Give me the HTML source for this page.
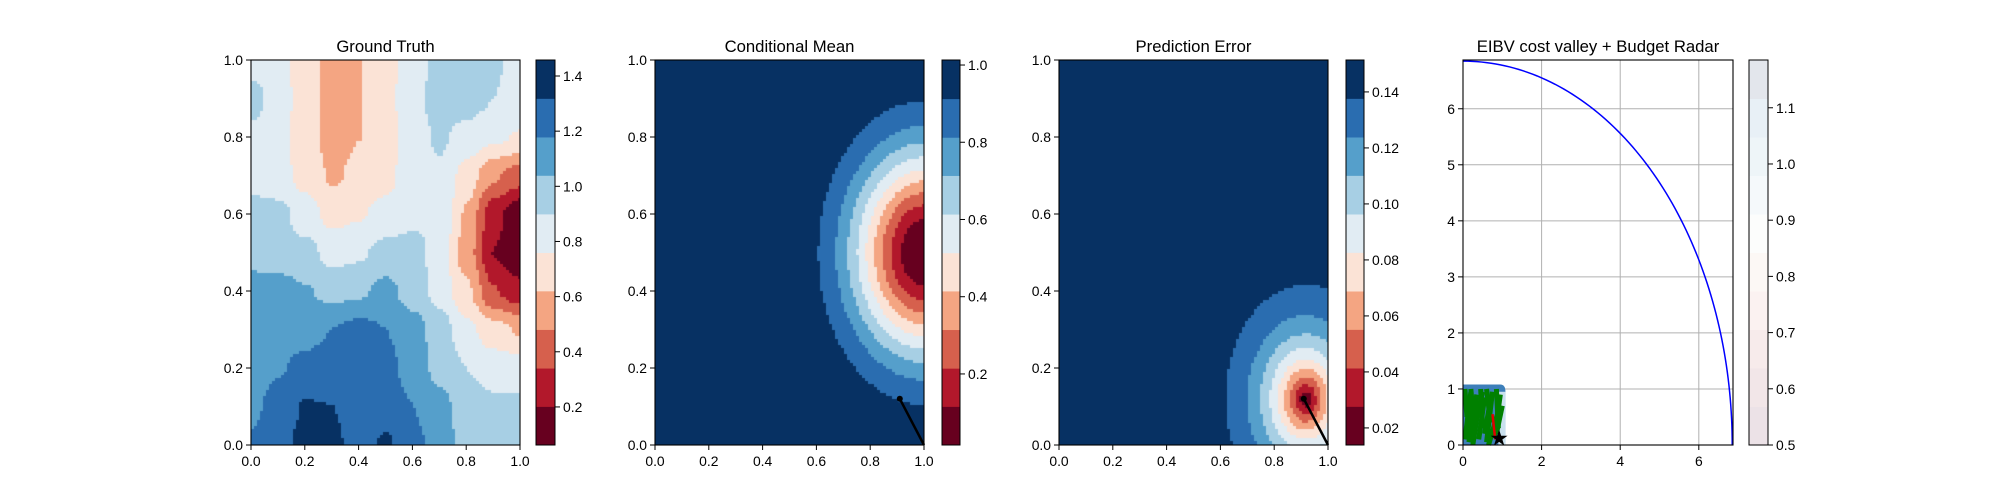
<!DOCTYPE html>
<html><head><meta charset="utf-8">
<style>
html,body{margin:0;padding:0;background:#fff;}
#root{position:relative;width:2000px;height:500px;overflow:hidden;font-family:"Liberation Sans","DejaVu Sans",sans-serif;}
canvas{position:absolute;}
svg{position:absolute;left:0;top:0;}
</style></head>
<body>
<div id="root">
<canvas id="c1"></canvas>
<canvas id="c2"></canvas>
<canvas id="c3"></canvas>
<svg id="s" width="2000" height="500"></svg>
</div>
<script>
// ---- data ----
const colors=["#67001f","#b2182b","#d6604d","#f4a582","#fbe3d6","#e1ecf3","#a7cfe4","#559fcb","#2a6db0","#073163"];
const gtLevels=[0.062,0.202,0.341,0.481,0.621,0.760,0.900,1.040,1.179,1.319,1.458];
const cmLevels=[0.016,0.116,0.215,0.315,0.415,0.514,0.614,0.714,0.813,0.913,1.013];
const peLevels=[0.0139,0.0277,0.0414,0.0552,0.0689,0.0827,0.0964,0.1102,0.1239,0.1377,0.1514];
const gtTicks=[0.2,0.4,0.6,0.8,1.0,1.2,1.4];
const cmTicks=[0.2,0.4,0.6,0.8,1.0];
const peTicks=[0.02,0.04,0.06,0.08,0.10,0.12,0.14];
const unitTicks=[0.0,0.2,0.4,0.6,0.8,1.0];
// ground truth grid rows y=1.0 -> 0.0, cols x=0..1
const gtGrid=[
[0.83,0.80,0.70,0.55,0.62,0.72,0.82,0.95,0.97,0.92,0.85],
[0.97,0.82,0.70,0.55,0.62,0.72,0.85,0.97,0.97,0.90,0.85],
[0.85,0.80,0.70,0.56,0.62,0.70,0.83,0.92,0.85,0.78,0.75],
[0.83,0.80,0.72,0.60,0.66,0.72,0.85,0.88,0.70,0.50,0.40],
[0.97,0.95,0.82,0.72,0.75,0.80,0.85,0.90,0.60,0.25,0.10],
[0.97,0.97,0.95,0.85,0.88,0.95,0.97,0.82,0.55,0.20,0.08],
[1.12,1.10,1.05,1.00,1.02,1.08,0.98,0.85,0.65,0.35,0.25],
[1.10,1.12,1.14,1.18,1.22,1.18,1.10,0.97,0.80,0.68,0.60],
[1.10,1.17,1.21,1.24,1.28,1.22,1.12,1.00,0.90,0.84,0.83],
[1.15,1.24,1.33,1.32,1.26,1.26,1.18,1.08,0.98,0.93,0.93],
[1.20,1.28,1.36,1.35,1.26,1.34,1.22,1.12,0.98,0.95,0.95]];
// blob params: [cx, cy, base, depth, sigma, exponent]
const cmBlob=[1.0,0.5,1.013,1.0,0.26,2];
const peBlob=[0.915,0.12,0.1514,0.137,0.144,1.15];
const pathX=[0.91,1.0];
const pathY=[0.12,0.0];
// radar panel
const radarXTicks=[0,2,4,6];
const radarYTicks=[0,1,2,3,4,5,6];
const radarMax=6.87;
const radarRadius=6.85;
const radarCbLevels=[0.5,0.5685,0.637,0.7055,0.774,0.8425,0.911,0.9795,1.048,1.1165,1.185];
const radarCbColors=["#ece2e7","#f2e6e8","#f7ebeb","#fbf2f1","#fcf8f5","#fcfdfc","#f5f9fb","#eef5f8","#e8f0f6","#e3e6ec"];
const radarCbTicks=[0.5,0.6,0.7,0.8,0.9,1.0,1.1];
const greenX=[[0.05,0.2],[0.15,0.35],[0.3,0.2],[0.4,0.55],[0.5,0.45],[0.6,0.75],[0.7,0.6],[0.8,0.95],[0.9,0.85],[0.1,0.05],[0.25,0.4],[0.55,0.7],[0.65,0.9],[0.35,0.5],[0.85,1.0],[0.2,0.1]];
const greenY=[[0.1,0.95],[0.05,0.9],[0.2,1.0],[0.1,0.85],[0.3,1.0],[0.05,0.95],[0.4,1.0],[0.15,0.9],[0.3,1.0],[0.5,1.0],[0.0,0.7],[0.2,0.8],[0.0,0.6],[0.5,0.95],[0.2,0.7],[0.3,0.8]];
const redX=[0.75,0.82];
const redY=[0.55,0.1];
const starXY=[0.92,0.12];

// ---- layout ----
const panels=[
 {x0:251,x1:520,cb0:536,cb1:555,title:"Ground Truth"},
 {x0:655,x1:924,cb0:942,cb1:960,title:"Conditional Mean"},
 {x0:1059,x1:1328,cb0:1346,cb1:1364,title:"Prediction Error"},
 {x0:1463,x1:1733,cb0:1749,cb1:1768,title:"EIBV cost valley + Budget Radar"}];
const Y0=60,Y1=445;
const NS="http://www.w3.org/2000/svg";
const svg=document.getElementById('s');
function el(tag,attrs,parent){const e=document.createElementNS(NS,tag);for(const k in attrs)e.setAttribute(k,attrs[k]);(parent||svg).appendChild(e);return e;}
function txt(x,y,s,anchor,size,name){const t=el('text',{x:x,y:y,'text-anchor':anchor,'font-size':size,fill:'#000'});t.textContent=s;return t;}

function binIndex(v,levels){for(let i=0;i<levels.length-1;i++){if(v<levels[i+1])return i;}return levels.length-2;}
function hex(c){return [parseInt(c.substr(1,2),16),parseInt(c.substr(3,2),16),parseInt(c.substr(5,2),16)];}
const rgb=colors.map(hex);
function gtField(x,y){const gx=x*10,gy=(1-y)*10;let i=Math.min(9,Math.floor(gx)),j=Math.min(9,Math.floor(gy));const fx=gx-i,fy=gy-j;
 const a=gtGrid[j][i],b=gtGrid[j][i+1],c=gtGrid[j+1][i],d=gtGrid[j+1][i+1];
 let t=fx*fx*(3-2*fx),u=fy*fy*(3-2*fy);return a*(1-t)*(1-u)+b*t*(1-u)+c*(1-t)*u+d*t*u;}
function blobField(p){return (x,y)=>{const dx=x-p[0],dy=y-p[1];const dd=Math.sqrt(dx*dx+dy*dy);return p[2]-p[3]*Math.exp(-Math.pow(dd/p[4],p[5]));};}
function drawField(id,p,fn,levels){const c=document.getElementById(id);const w=p.x1-p.x0,h=Y1-Y0;c.width=w;c.height=h;c.style.left=p.x0+'px';c.style.top=Y0+'px';
 const ctx=c.getContext('2d');const img=ctx.createImageData(w,h);const step=3;
 for(let py=0;py<h;py++){for(let px=0;px<w;px++){const qx=Math.floor(px/step)*step+1,qy=Math.floor(py/step)*step+1;
  const v=fn(qx/w,1-qy/h);const k=rgb[binIndex(v,levels)];const o=(py*w+px)*4;img.data[o]=k[0];img.data[o+1]=k[1];img.data[o+2]=k[2];img.data[o+3]=255;}}
 ctx.putImageData(img,0,0);}
drawField('c1',panels[0],gtField,gtLevels);
drawField('c2',panels[1],blobField(cmBlob),cmLevels);
drawField('c3',panels[2],blobField(peBlob),peLevels);

function axes(p,xt,yt,xmax,ymax,fmt,idx){
 const sx=v=>p.x0+(p.x1-p.x0)*v/xmax, sy=v=>Y1-(Y1-Y0)*v/ymax;
 xt.forEach(v=>{const l=el('line',{x1:sx(v),x2:sx(v),y1:Y1,y2:Y1+5,stroke:'#000','stroke-width':1});
  txt(sx(v),Y1+21,fmt(v),'middle',13.9,'x-tick-label');});
 yt.forEach(v=>{const l=el('line',{x1:p.x0-5,x2:p.x0,y1:sy(v),y2:sy(v),stroke:'#000','stroke-width':1});
  txt(p.x0-8,sy(v)+5,fmt(v),'end',13.9,'y-tick-label');});
 const r=el('rect',{x:p.x0,y:Y0,width:p.x1-p.x0,height:Y1-Y0,fill:'none',stroke:'#000','stroke-width':1.1});
 const t=txt((p.x0+p.x1)/2,Y0-8,p.title,'middle',16.7,'panel-title');
 return {sx,sy};}
function colorbar(p,levels,cols,ticks,fmt,idx){
 const lo=levels[0],hi=levels[levels.length-1];const sy=v=>Y1-(Y1-Y0)*(v-lo)/(hi-lo);
 const g=el('g',{});
 for(let i=0;i<cols.length;i++){const r=el('rect',{x:p.cb0,y:sy(levels[i+1]),width:p.cb1-p.cb0,height:sy(levels[i])-sy(levels[i+1])+0.5,fill:cols[i]},g);}
 el('rect',{x:p.cb0,y:Y0,width:p.cb1-p.cb0,height:Y1-Y0,fill:'none',stroke:'#000','stroke-width':1},g);
 ticks.forEach(v=>{el('line',{x1:p.cb1,x2:p.cb1+5,y1:sy(v),y2:sy(v),stroke:'#000'},g);txt(p.cb1+8,sy(v)+5,fmt(v),'start',13.9,'colorbar-tick-label');});}
const f1=v=>v.toFixed(1),f2=v=>v.toFixed(2),f0=v=>String(v);
const a1=axes(panels[0],unitTicks,unitTicks,1,1,f1,1);
const a2=axes(panels[1],unitTicks,unitTicks,1,1,f1,2);
const a3=axes(panels[2],unitTicks,unitTicks,1,1,f1,3);
colorbar(panels[0],gtLevels,colors,gtTicks,f1,1);
colorbar(panels[1],cmLevels,colors,cmTicks,f1,2);
colorbar(panels[2],peLevels,colors,peTicks,f2,3);
[a2,a3].forEach((a,i)=>{
 const l=el('line',{x1:a.sx(pathX[0]),y1:a.sy(pathY[0]),x2:a.sx(pathX[1]),y2:a.sy(pathY[1]),stroke:'#000','stroke-width':2.5});
 
 const c=el('circle',{cx:a.sx(pathX[0]),cy:a.sy(pathY[0]),r:3,fill:'#000'});});

// radar panel
const P4=panels[3];
const sx4=v=>P4.x0+(P4.x1-P4.x0)*v/radarMax, sy4=v=>Y1-(Y1-Y0)*v/radarMax;
radarXTicks.forEach(v=>{const l=el('line',{x1:sx4(v),x2:sx4(v),y1:Y0,y2:Y1,stroke:'#b0b0b0','stroke-width':1});});
radarYTicks.forEach(v=>{const l=el('line',{x1:P4.x0,x2:P4.x1,y1:sy4(v),y2:sy4(v),stroke:'#b0b0b0','stroke-width':1});});
const ig=el('g',{});
el('path',{d:`M${sx4(0)},${sy4(0)} L${sx4(0)},${sy4(1.08)} L${sx4(0.95)},${sy4(1.08)} Q${sx4(1.08)},${sy4(1.08)} ${sx4(1.08)},${sy4(0.95)} L${sx4(1.08)},${sy4(0)} Z`,fill:'#3d7fba'},ig);
el('rect',{x:sx4(0.9),y:sy4(0.95),width:sx4(1.08)-sx4(0.9),height:sy4(0)-sy4(0.95),fill:'#c9e0ee'},ig);
for(let i=0;i<greenX.length;i++){const l=el('line',{x1:sx4(greenX[i][0]),y1:sy4(greenY[i][0]),x2:sx4(greenX[i][1]),y2:sy4(greenY[i][1]),stroke:'#008000','stroke-width':5},ig);}
const rl=el('line',{x1:sx4(redX[0]),y1:sy4(redY[0]),x2:sx4(redX[1]),y2:sy4(redY[1]),stroke:'#e00000','stroke-width':2.5},ig);
const st=el('text',{x:sx4(starXY[0]),y:sy4(starXY[1])+7,'text-anchor':'middle','font-size':22,fill:'#000'},ig);st.textContent='★';
let d='';for(let k=0;k<=90;k++){const a=k*Math.PI/180;d+=(k?'L':'M')+sx4(radarRadius*Math.cos(a)).toFixed(2)+','+sy4(radarRadius*Math.sin(a)).toFixed(2)+' ';}
const arc=el('path',{d:d,fill:'none',stroke:'#0000ff','stroke-width':1.5});
axes(P4,radarXTicks,radarYTicks,radarMax,radarMax,f0,4);
colorbar(P4,radarCbLevels,radarCbColors,radarCbTicks,f1,4);
</script>
</body></html>
